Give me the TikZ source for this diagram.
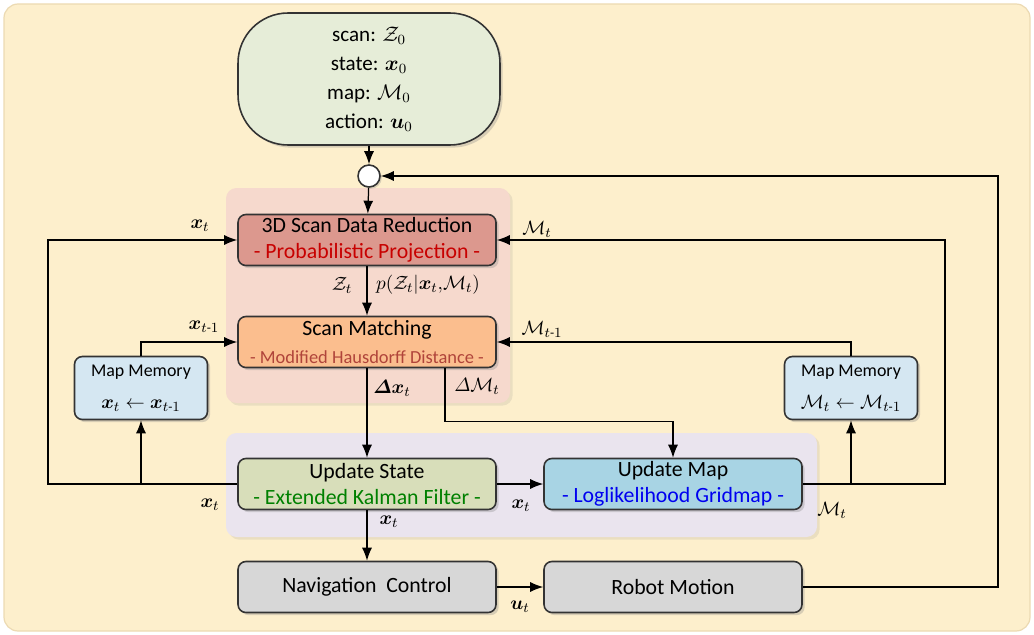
\documentclass[tikz,border=0pt]{standalone}
\usepackage{fontspec}
\setmainfont{Carlito}
\usepackage{amsmath}
\usepackage{amsfonts}
\usetikzlibrary{arrows.meta,shadows}

\definecolor{bgfill}{RGB}{253,239,204}
\definecolor{bgline}{RGB}{236,218,178}
\definecolor{pinkgrp}{RGB}{246,217,205}
\definecolor{purplegrp}{RGB}{234,228,238}
\definecolor{startfill}{RGB}{230,237,216}
\definecolor{reducefill}{RGB}{220,152,142}
\definecolor{matchfill}{RGB}{251,190,142}
\definecolor{memfill}{RGB}{213,231,242}
\definecolor{statefill}{RGB}{216,222,186}
\definecolor{mapfill}{RGB}{168,212,228}
\definecolor{navfill}{RGB}{215,215,215}
\definecolor{subred}{RGB}{200,0,0}
\definecolor{subbrown}{RGB}{176,68,58}
\definecolor{subgreen}{RGB}{0,128,0}
\definecolor{subblue}{RGB}{0,0,240}

\begin{document}
\begin{tikzpicture}[x=0.02cm, y=-0.02cm, line width=0.7pt,
    >={Latex[length=2.6mm,width=2mm]},
    box/.style={draw=black!80, line width=0.9pt, rounded corners=4.5pt,
      minimum width=5.16cm, minimum height=1.02cm, align=center, inner sep=1pt,
      font=\fontsize{12.4}{14.5}\selectfont,
      drop shadow={opacity=0.3, shadow xshift=1.5pt, shadow yshift=-1.5pt}},
    membox/.style={box, minimum width=2.66cm, minimum height=1.26cm,
      font=\fontsize{10.2}{12}\selectfont},
    group/.style={rounded corners=6pt,
      drop shadow={opacity=0.15, shadow xshift=1.5pt, shadow yshift=-1.5pt}},
    lbl/.style={font=\fontsize{11}{12}\selectfont, inner sep=1pt}]
  \useasboundingbox (0,0) rectangle (1034,635);
  \path[fill=bgfill, draw=bgline, rounded corners=8pt] (4,4) rectangle (1030,631);
  \path[group, fill=pinkgrp] (226,188) rectangle (510,403);
  \path[group, fill=purplegrp] (226,433) rectangle (817,537);

  \coordinate (lcol) at (48,0);
  \coordinate (rcol) at (945,0);
  \coordinate (fcol) at (998,0);

  \node[box, fill=startfill, rounded corners=1cm, minimum width=5.24cm, minimum height=2.64cm,
    font=\fontsize{12}{16.5}\selectfont] (start) at (369,79)
    {scan: $\mathcal{Z}_0$\\ state: $\boldsymbol{x}_0$\\ map: $\mathcal{M}_0$\\ action: $\boldsymbol{u}_0$};
  \node[circle, draw=black!80, fill=white, line width=0.9pt, minimum size=0.44cm, inner sep=0pt,
    drop shadow={opacity=0.3, shadow xshift=1pt, shadow yshift=-1pt}] (join) at (369,176) {};

  \node[box, fill=reducefill] (reduce) at (367,240)
    {3D Scan Data Reduction\\{\color{subred}- Probabilistic Projection -}};
  \node[box, fill=matchfill] (match) at (367,342)
    {Scan Matching\\[2pt]{\fontsize{10.5}{12}\selectfont\color{subbrown}- Modified Hausdorff Distance -}};
  \node[membox, fill=memfill] (memL) at (141,388)
    {Map Memory\\[6pt]{\fontsize{10.9}{12}\selectfont$\boldsymbol{x}_t\leftarrow\boldsymbol{x}_{t\text{-}1}$}};
  \node[membox, fill=memfill] (memR) at (851,388)
    {Map Memory\\[6pt]{\fontsize{10.9}{12}\selectfont$\mathcal{M}_t\leftarrow\mathcal{M}_{t\text{-}1}$}};
  \node[box, fill=statefill] (upstate) at (367,484)
    {Update State\\{\color{subgreen}- Extended Kalman Filter -}};
  \node[box, fill=mapfill] (upmap) at (673,484)
    {Update Map\\{\color{subblue}- Loglikelihood Gridmap -}};
  \node[box, fill=navfill] (nav) at (367,587) {Navigation~ Control};
  \node[box, fill=navfill] (robot) at (673,587) {Robot Motion};

  % connectors
  \path[->]
    (start) edge (join)
    (join) edge (reduce)
    (reduce) edge (match)
    (match) edge (upstate)
    (upstate) edge (upmap)
    (upstate) edge (nav)
    (nav) edge (robot)
    ;
  \draw[->] (robot.east) -- (robot.east -| fcol) |- (join.east);
  \draw[->] (upstate.west) -- (upstate.west -| lcol) |- (reduce.west);
  \draw[->] (upmap.east) -- (upmap.east -| rcol) |- (reduce.east);
  \draw[->] (memL.south |- upstate.west) -- (memL.south);
  \draw[->] (memR.south |- upmap.east) -- (memR.south);
  \draw[->] (memL.north) |- (match.west);
  \draw[->] (memR.north) |- (match.east);
  \draw[->] ([xshift=1.56cm]match.south) -- ++(0,53) -| (upmap.north);

  % labels
  \node[lbl] (lxa) at (200,226) {$\boldsymbol{x}_t$};
  \node[lbl] (lma) at (537,229) {$\mathcal{M}_t$};
  \node[lbl] (lz) at (342,285) {$\mathcal{Z}_t$};
  \node[lbl] (lp) at (428,285) {$p(\mathcal{Z}_t|\boldsymbol{x}_t{,}\mathcal{M}_t)$};
  \node[lbl] (lxb) at (204,327) {$\boldsymbol{x}_{t\text{-}1}$};
  \node[lbl] (lmb) at (542,329) {$\mathcal{M}_{t\text{-}1}$};
  \node[lbl] (ldx) at (392,388) {$\boldsymbol{\varDelta}\boldsymbol{x}_t$};
  \node[lbl] (ldm) at (477,386) {$\varDelta\mathcal{M}_t$};
  \node[lbl] (lxc) at (210,505) {$\boldsymbol{x}_t$};
  \node[lbl] (lxd) at (521,506) {$\boldsymbol{x}_t$};
  \node[lbl] (lmc) at (832,510) {$\mathcal{M}_t$};
  \node[lbl] (lxe) at (389,522) {$\boldsymbol{x}_t$};
  \node[lbl] (lu) at (520,607) {$\boldsymbol{u}_t$};
\end{tikzpicture}
\end{document}
